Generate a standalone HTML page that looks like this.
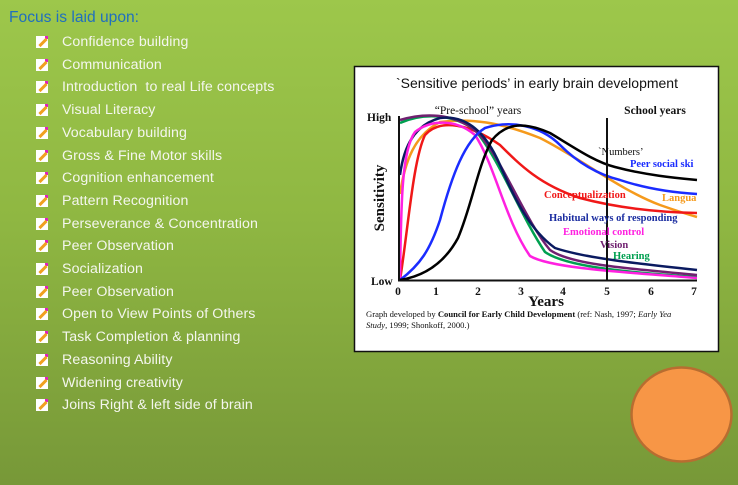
<!DOCTYPE html>
<html><head><meta charset="utf-8"><style>
html,body{margin:0;padding:0;width:738px;height:485px;overflow:hidden}
body{background:linear-gradient(180deg,#9dc74b 0%,#8fb742 45%,#779838 100%);position:relative;font-family:"Liberation Sans",sans-serif}
.t{position:absolute;left:9px;top:9px;color:#1f6fbf;font-size:15.6px}
.li{position:absolute;left:62px;color:#f4f6ee;font-size:14.2px;letter-spacing:0.1px}
.ic{position:absolute;left:36px;width:12px;height:12px;background:#fff}
.ic:after{content:"";position:absolute;left:2px;top:5px;width:10px;height:3px;background:#f0a020;transform:rotate(-45deg)}
.ic:before{content:"";position:absolute;left:9px;top:0px;width:3px;height:3px;background:#e020c0}
</style></head><body>
<div class="t">Focus is laid upon:</div>
<div id="list"></div>
<svg style="position:absolute;left:0;top:0" width="738" height="485">
<rect x="354.5" y="66.5" width="364" height="285" fill="#fff" stroke="#111" stroke-width="1.5"/>
<text x="537" y="88" text-anchor="middle" font-family="Liberation Sans" font-size="14" fill="#111">`Sensitive periods’ in early brain development</text>
<text x="478" y="114" text-anchor="middle" font-family="Liberation Serif" font-size="11.5" fill="#111">“Pre-school” years</text>
<text x="655" y="114" text-anchor="middle" font-family="Liberation Serif" font-weight="bold" font-size="11.5" fill="#111">School years</text>
<text x="367" y="121" font-family="Liberation Serif" font-weight="bold" font-size="11.5" fill="#111">High</text>
<text x="371" y="285" font-family="Liberation Serif" font-weight="bold" font-size="11.5" fill="#111">Low</text>
<text transform="translate(384,198) rotate(-90)" text-anchor="middle" font-family="Liberation Serif" font-weight="bold" font-size="15" fill="#111">Sensitivity</text>
<g font-family="Liberation Serif" font-weight="bold" font-size="11.5" fill="#111" text-anchor="middle">
<text x="398" y="295">0</text><text x="436" y="295">1</text><text x="478" y="295">2</text><text x="521" y="295">3</text><text x="563" y="295">4</text><text x="607" y="295">5</text><text x="651" y="295">6</text><text x="694" y="295">7</text>
<text x="546" y="306" font-size="15">Years</text></g>
<text x="366" y="317" font-family="Liberation Serif" font-size="8.6" fill="#111">Graph developed by <tspan font-weight="bold">Council for Early Child Development</tspan> (ref: Nash, 1997; <tspan font-style="italic">Early Yea</tspan></text>
<text x="366" y="328" font-family="Liberation Serif" font-size="8.6" fill="#111"><tspan font-style="italic">Study</tspan>, 1999; Shonkoff, 2000.)</text>
<g fill="none" stroke-width="2.5">
<path stroke="#f59a1c" d="M400,194 C405,160 415,135 440,122 C470,118 500,122 540,138 C580,158 620,190 660,205 C680,212 690,215 697,217"/>
<path stroke="#f01818" d="M400,280 C408,230 413,160 425,135 C440,118 470,124 500,145 C520,165 540,185 580,198 C610,206 650,212 697,213"/>
<path stroke="#00a050" d="M400,123 C420,114 450,112 475,130 C500,160 520,215 545,252 C565,266 620,272 697,277"/>
<path stroke="#702070" d="M400,120 C420,114 455,110 480,135 C505,165 525,220 550,250 C570,264 620,268 697,275"/>
<path stroke="#0a1a60" d="M400,175 C404,145 415,125 440,118 C465,115 485,130 500,165 C515,200 530,230 555,248 C585,258 640,264 697,270"/>
<path stroke="#ff20e0" d="M400,280 C401,200 402,150 415,132 C430,120 455,118 475,135 C495,165 505,220 530,256 C550,268 620,272 697,278"/>
<path stroke="#1a2cff" d="M400,280 C420,265 430,250 440,220 C452,175 465,140 485,128 C510,120 540,125 560,145 C580,165 600,175 620,180 C650,190 680,193 697,194"/>
<path stroke="#000" d="M400,280 C425,276 445,262 458,238 C472,205 478,165 492,140 C507,122 525,122 550,133 C575,148 595,162 615,167 C645,175 675,178 697,180"/>
</g>
<line x1="399" y1="116" x2="399" y2="281" stroke="#111" stroke-width="2"/>
<line x1="398" y1="280.5" x2="697" y2="280.5" stroke="#111" stroke-width="2"/>
<line x1="607" y1="118" x2="607" y2="281" stroke="#111" stroke-width="2"/>
<g font-family="Liberation Serif" font-weight="bold" font-size="10.5">
<text x="598" y="155" fill="#111" font-weight="normal">`Numbers’</text>
<text x="630" y="167" fill="#1a2cff">Peer social ski</text>
<text x="544" y="198" fill="#f01818">Conceptualization</text>
<text x="662" y="201" fill="#f59a1c">Langua</text>
<text x="549" y="221" fill="#1a2ca0">Habitual ways of responding</text>
<text x="563" y="235" fill="#ff20e0">Emotional control</text>
<text x="600" y="248" fill="#702070">Vision</text>
<text x="613" y="259" fill="#00a050">Hearing</text>
</g>
<ellipse cx="681.5" cy="414.5" rx="50" ry="47" fill="#f79646" stroke="#b86d30" stroke-width="2.5"/>
</svg>
<script>
var items=["Confidence building","Communication","Introduction  to real Life concepts","Visual Literacy","Vocabulary building","Gross & Fine Motor skills","Cognition enhancement","Pattern Recognition","Perseverance & Concentration","Peer Observation","Socialization","Peer Observation","Open to View Points of Others","Task Completion & planning","Reasoning Ability","Widening creativity","Joins Right & left side of brain"];
var h="";for(var i=0;i<items.length;i++){var y=35+i*22.7;h+='<div class="ic" style="top:'+(y+1)+'px"></div><div class="li" style="top:'+(y-1)+'px">'+items[i].replace(/&/g,"&amp;").replace(/  /g," &nbsp;")+'</div>';}
document.getElementById("list").innerHTML=h;
</script>
</body></html>
